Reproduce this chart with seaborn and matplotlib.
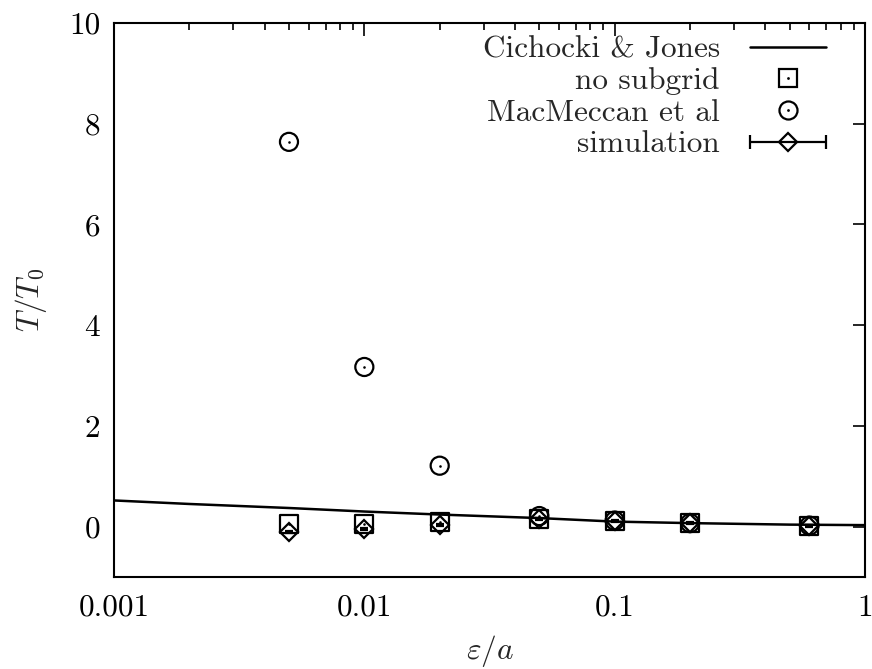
import numpy as np
import pandas as pd
import matplotlib
matplotlib.use("Agg")
import matplotlib.pyplot as plt
import seaborn as sns
from matplotlib.lines import Line2D
from matplotlib.container import ErrorbarContainer
from matplotlib.legend_handler import HandlerErrorbar
from matplotlib.ticker import FixedLocator, FixedFormatter, NullFormatter, LogLocator

# ---- data ----
eps_line = [0.001, 0.002, 0.005, 0.01, 0.02, 0.05, 0.1, 0.2, 0.5, 1.0]
t_line = [0.52, 0.45, 0.37, 0.30, 0.24, 0.17, 0.10, 0.07, 0.04, 0.03]

eps_pts = [0.005, 0.01, 0.02, 0.05, 0.1, 0.2, 0.6]
t_nosubgrid = [0.06, 0.06, 0.09, 0.15, 0.12, 0.07, 0.02]
t_macmeccan = [7.64, 3.17, 1.21, 0.21, 0.12, 0.07, 0.02]
t_simulation = [-0.10, -0.05, 0.04, 0.15, 0.12, 0.07, 0.02]
err_simulation = [0.02, 0.02, 0.02, 0.02, 0.02, 0.02, 0.02]

x_ticks = [0.001, 0.01, 0.1, 1]
x_ticklabels = ["0.001", "0.01", "0.1", "1"]
y_ticks = [0, 2, 4, 6, 8, 10]
y_ticklabels = ["0", "2", "4", "6", "8", "10"]

labels = ["Cichocki & Jones", "no subgrid", "MacMeccan et al", "simulation"]

sns.set_theme(style="white")
plt.rcParams["font.family"] = ["cmr10", "DejaVu Serif"]
plt.rcParams["mathtext.fontset"] = "cm"
plt.rcParams["axes.formatter.use_mathtext"] = True
FS = 22.5

fig = plt.figure(figsize=(8.72, 6.69), dpi=100)
ax = fig.add_axes([114 / 872, 1 - 577 / 669, (865 - 114) / 872, (577 - 23) / 669])
ax.set_xscale("log")

df_line = pd.DataFrame({"eps": eps_line, "T": t_line})
df_pts = pd.DataFrame({"eps": eps_pts, "nosub": t_nosubgrid, "mac": t_macmeccan,
                       "sim": t_simulation, "err": err_simulation})

sns.lineplot(data=df_line, x="eps", y="T", ax=ax, color="black", lw=1.8,
             legend=False, zorder=2)

ms = 13
sns.scatterplot(data=df_pts, x="eps", y="nosub", ax=ax, marker="s", s=ms**2,
                facecolors="none", edgecolor="black", linewidth=1.6, legend=False, zorder=3)
sns.scatterplot(data=df_pts, x="eps", y="nosub", ax=ax, marker="o", s=3.5,
                color="black", linewidth=0, legend=False, zorder=4)
sns.scatterplot(data=df_pts, x="eps", y="mac", ax=ax, marker="o", s=ms**2,
                facecolors="none", edgecolor="black", linewidth=1.6, legend=False, zorder=3)
sns.scatterplot(data=df_pts, x="eps", y="mac", ax=ax, marker="o", s=3.5,
                color="black", linewidth=0, legend=False, zorder=4)
ax.errorbar(df_pts["eps"], df_pts["sim"], yerr=df_pts["err"], fmt="D", ms=9.2,
            mfc="none", mec="black", mew=1.6, ecolor="black", elinewidth=1.5,
            capsize=3, color="black", zorder=5)

ax.set_xlim(0.001, 1)
ax.set_ylim(-1, 10)

ax.xaxis.set_major_locator(FixedLocator(x_ticks))
ax.xaxis.set_major_formatter(FixedFormatter(x_ticklabels))
ax.xaxis.set_minor_locator(LogLocator(base=10, subs=np.arange(2, 10)))
ax.xaxis.set_minor_formatter(NullFormatter())
ax.yaxis.set_major_locator(FixedLocator(y_ticks))
ax.yaxis.set_major_formatter(FixedFormatter(y_ticklabels))

ax.tick_params(axis="both", which="both", direction="in", top=True, right=True,
               labelsize=FS, color="black", labelcolor="black", width=1.2)
ax.tick_params(which="major", length=9, pad=10)
ax.tick_params(which="minor", length=5)
ax.tick_params(axis="x", which="major", pad=12)
for s in ax.spines.values():
    s.set_color("black")
    s.set_linewidth(1.5)

ax.set_xlabel(r"$\varepsilon/a$", fontsize=FS, labelpad=8)
ax.set_ylabel(r"$T/T_0$", fontsize=FS, labelpad=14)

# legend proxies
h_line = Line2D([], [], color="black", lw=1.8)
h_sq = (Line2D([], [], ls="none", marker="s", ms=ms, mfc="none", mec="black", mew=1.6),
        Line2D([], [], ls="none", marker="o", ms=2, mfc="black", mec="black", mew=0))
h_ci = (Line2D([], [], ls="none", marker="o", ms=ms, mfc="none", mec="black", mew=1.6),
        Line2D([], [], ls="none", marker="o", ms=2, mfc="black", mec="black", mew=0))
h_sim = ax.errorbar([np.nan], [np.nan], xerr=[1.0], fmt="D", ms=9.2, mfc="none",
                    mec="black", mew=1.6, ecolor="black", elinewidth=1.6, capsize=5,
                    color="black")
leg = ax.legend([h_line, h_sq, h_ci, h_sim], labels, loc="upper right",
                markerfirst=False, frameon=False, fontsize=FS, handlelength=2.45,
                handletextpad=0.95, labelspacing=0.12, borderaxespad=0.1,
                borderpad=0.3, bbox_to_anchor=(0.965, 1.0),
                handler_map={ErrorbarContainer: HandlerErrorbar(xerr_size=1.22)})

fig.savefig("out.png", dpi=100, facecolor="white")
